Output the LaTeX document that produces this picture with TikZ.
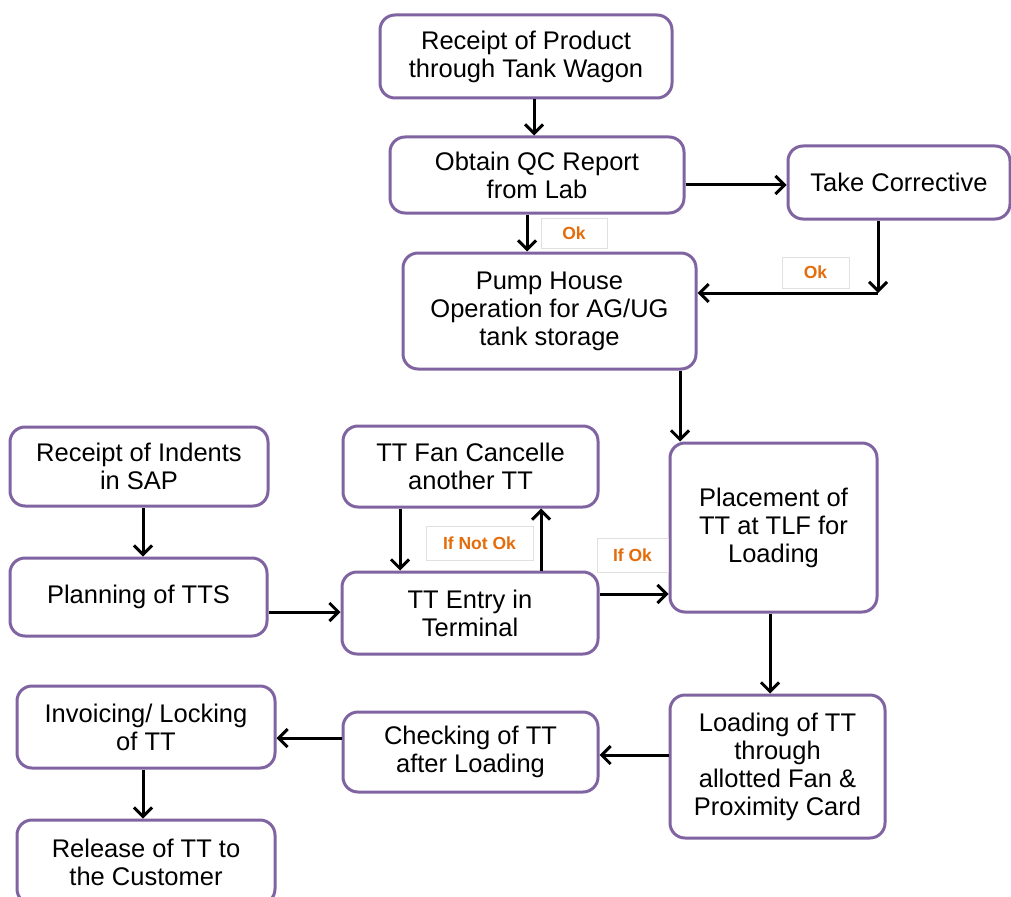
\documentclass[tikz,border=0pt]{standalone}
\usepackage{fontspec}
\setmainfont{Liberation Sans}
\usetikzlibrary{arrows.meta,calc}
\definecolor{boxpurple}{HTML}{8064A2}
\definecolor{lblorange}{HTML}{E46C0A}
\tikzset{
  box/.style={draw=boxpurple, line width=3pt, rounded corners=15pt, fill=white,
    align=center, inner sep=2pt, font=\fontsize{25.5}{28}\selectfont},
  lbl/.style={draw=black!12, line width=0.8pt, fill=white, text=lblorange,
    font=\fontsize{17.5}{19}\selectfont\bfseries, inner sep=0pt},
  arr/.style={line width=3pt, -{Straight Barb[length=9pt,width=18pt,line width=3pt]}},
  seg/.style={line width=3pt}
}
\begin{document}
\begin{tikzpicture}[x=1pt,y=-1pt]
\useasboundingbox (0,0) rectangle (1011,896);
% boxes
\node[box, minimum width=292pt, minimum height=83pt] (rp) at (526,56.5) {Receipt of Product\\through Tank Wagon};
\node[box, minimum width=294pt, minimum height=76pt] (qc) at (537,175) {Obtain QC Report\\from Lab};
\node[box, minimum width=222pt, minimum height=73pt] (tc) at (899,182.5) {Take Corrective};
\node[box, minimum width=293pt, minimum height=116pt] (ph) at (549.5,311) {Pump House\\Operation for AG/UG\\tank storage};
\node[box, minimum width=258pt, minimum height=79pt] (ri) at (139,466.5) {Receipt of Indents\\in SAP};
\node[box, minimum width=255pt, minimum height=81pt] (fc) at (470.5,466.5) {TT Fan Cancelle\\another TT};
\node[box, minimum width=207pt, minimum height=169pt] (pl) at (773.5,527.5) {Placement of\\TT at TLF for\\Loading};
\node[box, minimum width=257pt, minimum height=78pt] (pt) at (138.5,597) {Planning of TTS};
\node[box, minimum width=256pt, minimum height=82pt] (te) at (470,613) {TT Entry in\\Terminal};
\node[box, minimum width=258pt, minimum height=82pt] (inv) at (146,727) {Invoicing/ Locking\\of TT};
\node[box, minimum width=255pt, minimum height=80pt] (ck) at (470.5,752) {Checking of TT\\after Loading};
\node[box, minimum width=215pt, minimum height=143pt] (ld) at (777.5,766.5) {Loading of TT\\through\\allotted Fan \&\\Proximity Card};
\node[box, minimum width=258pt, minimum height=84pt] (rel) at (146,862) {Release of TT to\\the Customer};
% labels
\node[lbl, minimum width=66pt, minimum height=30pt] (ok1) at (574,233) {Ok};
\node[lbl, minimum width=67pt, minimum height=31pt] (ok2) at (815.5,272.5) {Ok};
\node[lbl, minimum width=107pt, minimum height=34pt] (nok) at (479.5,543) {If Not Ok};
\node[lbl, minimum width=71pt, minimum height=34pt] (iok) at (632.5,555) {If Ok};
% helper coordinates
\coordinate (x534) at (534,0);
\coordinate (x527) at (527,0);
\coordinate (x878) at (878,0);
\coordinate (x680) at (680,0);
\coordinate (x143) at (143,0);
\coordinate (x400) at (400,0);
\coordinate (x541) at (541,0);
\coordinate (x770) at (770,0);
\coordinate (y185) at (0,185);
\coordinate (y293) at (0,293);
\coordinate (y612) at (0,612);
\coordinate (y594) at (0,594);
\coordinate (y755) at (0,755);
\coordinate (y738) at (0,738);
\coordinate (corner) at (878,293);
% connectors
\draw[arr] (rp.south -| x534) -- (qc.north -| x534);
\draw[arr] (qc.east |- y185) -- (tc.west |- y185);
\draw[arr] (qc.south -| x527) -- (ph.north -| x527);
\draw[arr] (tc.south -| x878) -- (corner);
\draw[arr] (corner) -- (ph.east |- y293);
\draw[arr] (ph.south -| x680) -- (pl.north -| x680);
\draw[arr] (ri.south -| x143) -- (pt.north -| x143);
\draw[arr] (pt.east |- y612) -- (te.west |- y612);
\draw[arr] (fc.south -| x400) -- (te.north -| x400);
\draw[arr] (te.north -| x541) -- (fc.south -| x541);
\draw[arr] (te.east |- y594) -- (pl.west |- y594);
\draw[arr] (pl.south -| x770) -- (ld.north -| x770);
\draw[arr] (ld.west |- y755) -- (ck.east |- y755);
\draw[arr] (ck.west |- y738) -- (inv.east |- y738);
\draw[arr] (inv.south -| x143) -- (rel.north -| x143);
\end{tikzpicture}
\end{document}
